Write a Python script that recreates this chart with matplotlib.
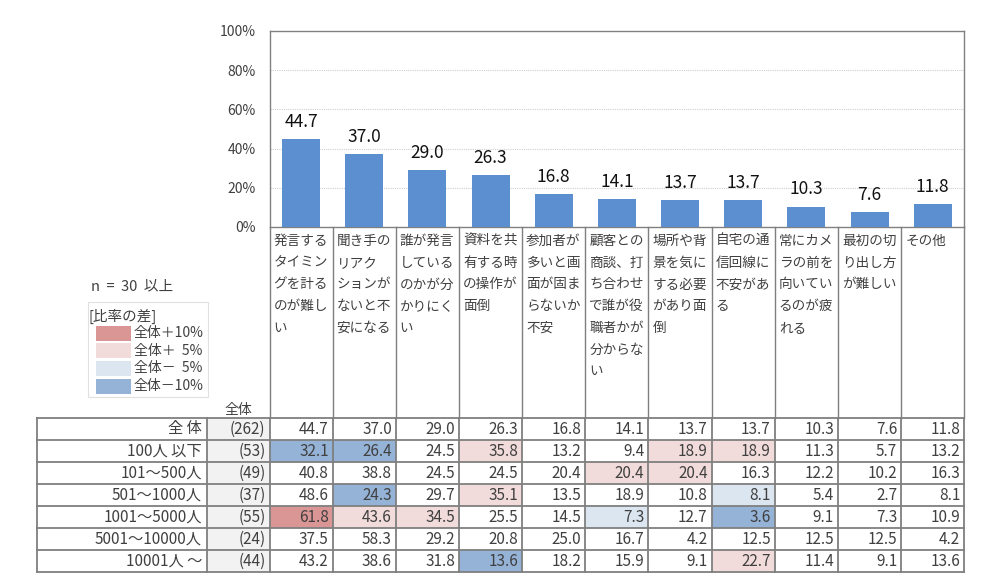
import matplotlib
matplotlib.use("Agg")
import matplotlib.pyplot as plt
from matplotlib.patches import Rectangle

plt.rcParams['font.family'] = ['Noto Sans CJK JP', 'DejaVu Sans']

categories = [
    "発言するタイミングを計るのが難しい",
    "聞き手のリアクションがないと不安になる",
    "誰が発言しているのかが分かりにくい",
    "資料を共有する時の操作が面倒",
    "参加者が多いと画面が固まらないか不安",
    "顧客との商談、打ち合わせで誰が役職者かが分からない",
    "場所や背景を気にする必要があり面倒",
    "自宅の通信回線に不安がある",
    "常にカメラの前を向いているのが疲れる",
    "最初の切り出し方が難しい",
    "その他",
]
total_values = [44.7, 37.0, 29.0, 26.3, 16.8, 14.1, 13.7, 13.7, 10.3, 7.6, 11.8]

row_labels = ["全 体", "100人 以下", "101～500人", "501～1000人", "1001～5000人", "5001～10000人", "10001人 ～"]
row_n = [262, 53, 49, 37, 55, 24, 44]
row_values = [
    total_values,
    [32.1, 26.4, 24.5, 35.8, 13.2, 9.4, 18.9, 18.9, 11.3, 5.7, 13.2],
    [40.8, 38.8, 24.5, 24.5, 20.4, 20.4, 20.4, 16.3, 12.2, 10.2, 16.3],
    [48.6, 24.3, 29.7, 35.1, 13.5, 18.9, 10.8, 8.1, 5.4, 2.7, 8.1],
    [61.8, 43.6, 34.5, 25.5, 14.5, 7.3, 12.7, 3.6, 9.1, 7.3, 10.9],
    [37.5, 58.3, 29.2, 20.8, 25.0, 16.7, 4.2, 12.5, 12.5, 12.5, 4.2],
    [43.2, 38.6, 31.8, 13.6, 18.2, 15.9, 9.1, 22.7, 11.4, 9.1, 13.6],
]
y_ticks = [0, 20, 40, 60, 80, 100]
legend_labels = ["全体＋10%", "全体＋  5%", "全体－  5%", "全体－10%"]

BAR_COLOR = "#5b8fcf"
C_P10 = "#da9694"
C_P5 = "#f2dcdb"
C_M5 = "#dce6f1"
C_M10 = "#95b3d7"
LEG_COLORS = [C_P10, C_P5, C_M5, C_M10]
LINE = "#7f7f7f"
TXT = "#404040"

W, H = 1000, 587
fig = plt.figure(figsize=(W / 100, H / 100), dpi=100)

# pixel geometry
x_left, x_right = 269.5, 964.3
y_top, y_zero = 31.0, 227.0
ncol = len(categories)
colw = (x_right - x_left) / ncol

ax = fig.add_axes([x_left / W, 1 - y_zero / H, (x_right - x_left) / W, (y_zero - y_top) / H])
xs = list(range(ncol))
ax.bar(xs, total_values, width=0.6, color=BAR_COLOR, zorder=3)
ax.set_xlim(-0.5, ncol - 0.5)
ax.set_ylim(0, 100)
ax.set_yticks(y_ticks)
ax.set_yticklabels([f"{t}%" for t in y_ticks], fontsize=10, color=TXT)
ax.tick_params(axis='y', length=0, pad=10)
ax.set_xticks([])
for t in y_ticks[1:-1]:
    ax.axhline(t, color="#cfcfcf", lw=0.8, ls=(0, (1, 1)), zorder=1)
for s in ax.spines.values():
    s.set_color("#808080")
    s.set_linewidth(1.0)
for x, v in zip(xs, total_values):
    ax.annotate(f"{v:.1f}", (x, v), xytext=(0, 6), textcoords="offset points",
                ha="center", va="bottom", fontsize=12.5, color="#111111")

# overlay in pixel coordinates
ov = fig.add_axes([0, 0, 1, 1])
ov.set_xlim(0, W)
ov.set_ylim(H, 0)
ov.axis("off")
ov.patch.set_visible(False)

tab_top = 418.0
row_h = 22.0
nrows = len(row_labels)
tab_bot = tab_top + nrows * row_h
tab_left = 37.0
n_left = 207.0

NO_START = set("ぁぃぅぇぉっゃゅょァィゥェォッャュョー、。")


def wrap4(s, n=4):
    lines = []
    i = 0
    while i < len(s):
        take = n
        if i + take < len(s) and s[i + take] in NO_START:
            take -= 1
        lines.append(s[i:i + take])
        i += take
    return lines


# category label area
for i in range(ncol + 1):
    xx = x_left + i * colw
    ov.plot([xx, xx], [y_zero, tab_top], color=LINE, lw=1.0)
for i, cat in enumerate(categories):
    for j, ln in enumerate(wrap4(cat)):
        ov.text(x_left + i * colw + 4, 241 + j * 21.7, ln, fontsize=9.8, color=TXT,
                ha="left", va="center")


def cell_color(v, tot, n):
    if n < 30:
        return None
    d = v - tot
    if d >= 10:
        return C_P10
    if d >= 5:
        return C_P5
    if d <= -10:
        return C_M10
    if d <= -5:
        return C_M5
    return None


ov.add_patch(Rectangle((n_left, tab_top), x_left - n_left, nrows * row_h, facecolor="#f2f2f2", edgecolor="none"))
for r in range(nrows):
    yc = tab_top + (r + 0.5) * row_h
    ov.text(n_left - 5, yc, row_labels[r], ha="right", va="center", fontsize=11, color=TXT)
    ov.text(x_left - 4, yc, f"({row_n[r]})", ha="right", va="center", fontsize=11, color=TXT)
    for c in range(ncol):
        v = row_values[r][c]
        col = cell_color(v, total_values[c], row_n[r]) if r > 0 else None
        if col:
            ov.add_patch(Rectangle((x_left + c * colw, tab_top + r * row_h), colw, row_h,
                                   facecolor=col, edgecolor="none"))
        ov.text(x_left + (c + 1) * colw - 4, yc, f"{v:.1f}", ha="right", va="center",
                fontsize=11, color=TXT)
for r in range(nrows + 1):
    yy = tab_top + r * row_h
    ov.plot([tab_left, x_right], [yy, yy], color=LINE, lw=1.3)
for xx in [tab_left, n_left] + [x_left + i * colw for i in range(ncol + 1)]:
    ov.plot([xx, xx], [tab_top, tab_bot], color=LINE, lw=1.3)
ov.text(238, 410, "全体", ha="center", va="center", fontsize=10, color=TXT)

# legend
ov.text(91, 286, "n  =  30  以上", ha="left", va="center", fontsize=10.5, color=TXT)
ov.add_patch(Rectangle((88, 302), 120, 95, facecolor="white", edgecolor="#e0e0e0", lw=0.8))
ov.text(88, 316, "[比率の差]", ha="left", va="center", fontsize=10.5, color=TXT)
for k, (lab, colr) in enumerate(zip(legend_labels, LEG_COLORS)):
    yc = 333 + k * 17.7
    ov.add_patch(Rectangle((96, yc - 7.5), 35, 15, facecolor=colr, edgecolor="none"))
    ov.text(134, yc, lab, ha="left", va="center", fontsize=10, color=TXT)

fig.savefig("out.png", dpi=100)
